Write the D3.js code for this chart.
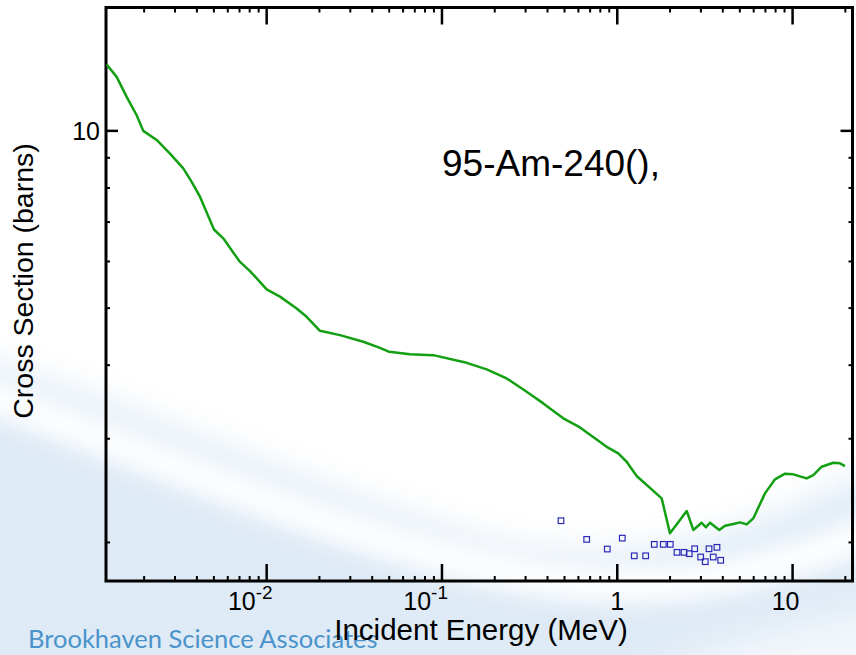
<!DOCTYPE html>
<html><head><meta charset="utf-8">
<script src="https://cdn.jsdelivr.net/npm/d3@7"></script>
<style>html,body{margin:0;padding:0;background:#fff;}svg{display:block;}</style>
</head><body>
<svg id="c" width="856" height="655"></svg>
<script>
// ---- data ----
const curveE = [0.001223,0.001394,0.00159,0.001813,0.001977,0.002358,0.002809,0.003344,0.003735,0.004164,0.005006,0.005655,0.006978,0.00803,0.01,0.01191,0.01483,0.01691,0.02014,0.02619,0.03557,0.04429,0.05005,0.06569,0.08919,0.1383,0.1799,0.2339,0.3042,0.3784,0.492,0.6126,0.8701,1.013,1.131,1.29,1.792,1.998,2.279,2.489,2.714,3.03,3.206,3.38,3.818,4.116,4.588,5.01,5.473,5.968,6.96,7.94,9.05,10.09,12.03,13.13,14.66,17.07,18.64,19.9];
const curveXS = [12.96,12.35,11.42,10.63,10.0,9.65,9.15,8.636,8.19,7.73,6.80,6.57,6.01,5.78,5.38,5.23,4.994,4.833,4.575,4.499,4.383,4.28,4.214,4.176,4.16,4.037,3.934,3.798,3.605,3.445,3.249,3.136,2.907,2.833,2.742,2.593,2.376,2.073,2.183,2.262,2.10,2.16,2.122,2.16,2.10,2.135,2.149,2.163,2.146,2.197,2.423,2.56,2.617,2.61,2.569,2.603,2.689,2.731,2.725,2.696];
const expE = [0.4774,0.669,0.877,1.068,1.25,1.452,1.626,1.83,2.006,2.191,2.402,2.575,2.764,2.991,3.177,3.337,3.528,3.704,3.89];
const expXS = [2.177,2.024,1.949,2.034,1.898,1.898,1.985,1.985,1.985,1.924,1.924,1.914,1.951,1.889,1.855,1.951,1.889,1.962,1.865];
const xDomain = [0.001212, 21.97];
const yDomain = [1.72, 16.2];
const xMajorTicks = [0.01, 0.1, 1, 10];
const xTickLabels = [["10","-2"],["10","-1"],["1",""],["10",""]];
const yMajorTicks = [10];
const yTickLabels = ["10"];
const title = "95-Am-240(),";
const xTitle = "Incident Energy (MeV)";
const yTitle = "Cross Section (barns)";
const footer = "Brookhaven Science Associates";

const svg = d3.select("#c");
const W = 856, H = 655;
const L = 106, R = 852.5, T = 7.5, B = 581;

// ---- background swoosh ----
const defs = svg.append("defs");
defs.append("filter").attr("id","blur").attr("x","-20%").attr("y","-20%").attr("width","140%").attr("height","140%")
  .append("feGaussianBlur").attr("stdDeviation",18);
defs.append("filter").attr("id","blur2").attr("x","-20%").attr("y","-20%").attr("width","140%").attr("height","140%")
  .append("feGaussianBlur").attr("stdDeviation",10);
svg.append("rect").attr("width",W).attr("height",H).attr("fill","#fff");
svg.append("path").attr("filter","url(#blur)")
  .attr("d","M-60,350 C100,390 300,490 500,545 C650,575 780,525 920,445 L920,720 L-60,720 Z")
  .attr("fill","#d9e7f4").attr("opacity",0.85);
svg.append("path").attr("filter","url(#blur2)")
  .attr("d","M-60,380 C100,430 300,530 520,575 C680,605 800,565 920,510")
  .attr("fill","none").attr("stroke","#ffffff").attr("stroke-width",38).attr("opacity",0.9);
svg.append("path").attr("filter","url(#blur)")
  .attr("d","M920,600 C800,620 700,640 600,700 L920,700 Z")
  .attr("fill","#ffffff").attr("opacity",0.6);

// ---- scales ----
const x = d3.scaleLog().domain(xDomain).range([L, R]);
const y = d3.scaleLog().domain(yDomain).range([B, T]);

// minor ticks
const xMinor = [];
for (let e = -3; e <= 1; e++) for (let m = 2; m <= 9; m++) { const v = m*Math.pow(10,e); if (v > xDomain[0] && v < xDomain[1]) xMinor.push(v); }
const yMinor = [];
for (let e = 0; e <= 1; e++) for (let m = 2; m <= 9; m++) { const v = m*Math.pow(10,e); if (v > yDomain[0] && v < yDomain[1]) yMinor.push(v); }

// ---- footer (beneath everything, partly covered by the axis title as in the original) ----
svg.append("text").attr("x",28).attr("y",648).attr("font-family","Lato, 'Open Sans', sans-serif")
  .attr("font-size",25.5).attr("fill","#4b93cb").text(footer);

const axes = svg.append("g").attr("stroke","#000").attr("fill","none");
axes.selectAll(".xmb").data(xMajorTicks).join("line").attr("x1",d=>x(d)).attr("x2",d=>x(d)).attr("y1",B).attr("y2",B-17).attr("stroke-width",2.5);
axes.selectAll(".xmt").data(xMajorTicks).join("line").attr("x1",d=>x(d)).attr("x2",d=>x(d)).attr("y1",T).attr("y2",T+17).attr("stroke-width",2.5);
axes.selectAll(".xnb").data(xMinor).join("line").attr("x1",d=>x(d)).attr("x2",d=>x(d)).attr("y1",B).attr("y2",B-5).attr("stroke-width",2);
axes.selectAll(".xnt").data(xMinor).join("line").attr("x1",d=>x(d)).attr("x2",d=>x(d)).attr("y1",T).attr("y2",T+5).attr("stroke-width",2);
axes.selectAll(".yml").data(yMajorTicks).join("line").attr("x1",L).attr("x2",L+12).attr("y1",d=>y(d)).attr("y2",d=>y(d)).attr("stroke-width",2.5);
axes.selectAll(".ymr").data(yMajorTicks).join("line").attr("x1",R).attr("x2",R-12).attr("y1",d=>y(d)).attr("y2",d=>y(d)).attr("stroke-width",2.5);
axes.selectAll(".ynl").data(yMinor).join("line").attr("x1",L).attr("x2",L+4).attr("y1",d=>y(d)).attr("y2",d=>y(d)).attr("stroke-width",2);
axes.selectAll(".ynr").data(yMinor).join("line").attr("x1",R).attr("x2",R-4).attr("y1",d=>y(d)).attr("y2",d=>y(d)).attr("stroke-width",2);
axes.append("rect").attr("x",L).attr("y",T).attr("width",R-L).attr("height",B-T).attr("stroke-width",3);

// ---- data marks ----
const clip = defs.append("clipPath").attr("id","clip");
clip.append("rect").attr("x",L).attr("y",T).attr("width",R-L).attr("height",B-T);
const line = d3.line().x(d=>x(d[0])).y(d=>y(d[1]));
svg.append("path").attr("clip-path","url(#clip)")
  .datum(curveE.map((e,i)=>[e,curveXS[i]]))
  .attr("d",line).attr("fill","none").attr("stroke","#12a012").attr("stroke-width",2.5).attr("stroke-linejoin","round");
svg.append("g").selectAll("rect").data(expE.map((e,i)=>[e,expXS[i]])).join("rect")
  .attr("x",d=>x(d[0])-2.8).attr("y",d=>y(d[1])-2.8).attr("width",5.6).attr("height",5.6)
  .attr("fill","none").attr("stroke","#2a2ab8").attr("stroke-width",1.2);

// ---- text ----
const font = "'Liberation Sans', Arial, Helvetica, sans-serif";
const xl = svg.append("g").attr("font-family",font).attr("fill","#000");
xMajorTicks.forEach((v,i)=>{
  const lab = xTickLabels[i];
  const t = xl.append("text").attr("x", x(v) + (lab[1] ? 6 : (lab[0]==="1" ? 0 : -7))).attr("y",610)
    .attr("text-anchor", lab[1] ? "end" : "middle").attr("font-size",25);
  t.append("tspan").text(lab[0]);
  if (lab[1]) t.append("tspan").attr("dy",-11).attr("font-size",19).text(lab[1]);
});
yMajorTicks.forEach((v,i)=>{
  xl.append("text").attr("x",L-6).attr("y",y(v)+9).attr("text-anchor","end").attr("font-size",25).text(yTickLabels[i]);
});
xl.append("text").attr("x",481).attr("y",640).attr("text-anchor","middle").attr("font-size",29.5).text(xTitle);
xl.append("text").attr("transform","translate(33,281) rotate(-90)").attr("text-anchor","middle").attr("font-size",28.5).text(yTitle);
xl.append("text").attr("x",442).attr("y",176).attr("font-size",37).text(title);
</script>
</body></html>
